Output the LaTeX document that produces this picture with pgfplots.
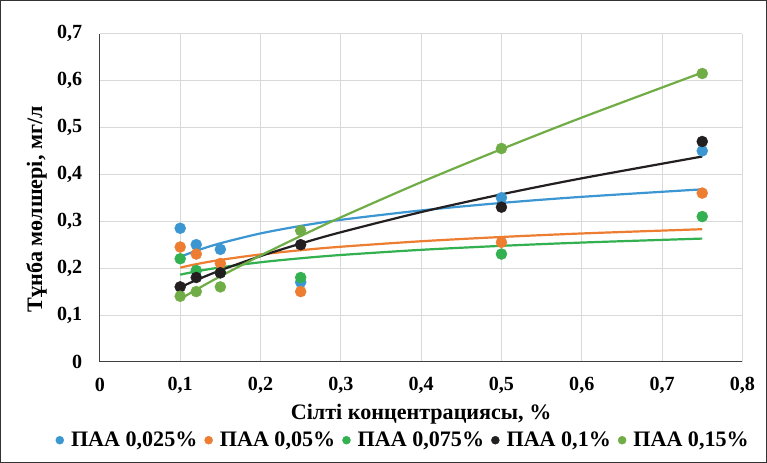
\documentclass[border=0pt]{standalone}
\usepackage{pgfplots}
\pgfplotsset{compat=1.18}
\usepackage{fontspec}
\setmainfont{Liberation Serif}
\definecolor{cA}{HTML}{3C96D2}
\definecolor{cB}{HTML}{ED7D31}
\definecolor{cC}{HTML}{33B04F}
\definecolor{cD}{HTML}{231F20}
\definecolor{cE}{HTML}{70AD47}
\begin{document}
\begin{tikzpicture}
\draw[line width=1pt, black!80] (-99pt,-100pt) rectangle (664pt,360pt);
\begin{axis}[
  at={(0,0)}, anchor=south west,
  scale only axis, width=640pt, height=327pt,
  xmin=0, xmax=0.8, ymin=0, ymax=0.7,
  xtick={0,0.1,0.2,0.3,0.4,0.5,0.6,0.7,0.8},
  ytick={0,0.1,0.2,0.3,0.4,0.5,0.6,0.7},
  grid=major, grid style={color=black!15, line width=0.9pt},
  axis x line*=bottom, axis y line*=left,
  axis line style={black!75, line width=1pt, -},
  major tick length=0pt,
  tick label style={font=\fontsize{20}{22}\selectfont\bfseries},
  xticklabel style={anchor=center, yshift=-23pt},
  yticklabel style={anchor=east, xshift=-14pt},
  /pgf/number format/.cd, use comma, fixed, assume math mode=true,
  /pgfplots/.cd,
  xlabel={Сілті концентрациясы, \%},
  ylabel={Тұнба мөлшері, мг/л},
  label style={font=\fontsize{22}{24}\selectfont\bfseries},
  xlabel style={at={(axis description cs:0.5,-0.158)}, anchor=center},
  ylabel style={at={(axis description cs:-0.0984,0.465)}, anchor=center},
  legend style={at={(axis description cs:0.472,-0.2385)}, anchor=center,
    draw=none, fill=none, font=\fontsize{22}{24}\selectfont\bfseries,
    /tikz/every odd column/.append style={column sep=5pt},
    /tikz/every even column/.append style={column sep=5pt},
    inner sep=0pt},
  legend columns=-1,
  legend image code/.code={\fill (0.2cm,0cm) circle (4pt);},
]
\addplot[only marks, mark=*, color=cA, mark size=5.5pt] coordinates {(0.1,0.285) (0.12,0.25) (0.15,0.24) (0.25,0.17) (0.5,0.35) (0.75,0.45)};
\addlegendentry{ПАА 0,025\%}
\addplot[only marks, mark=*, color=cB, mark size=5.5pt] coordinates {(0.1,0.245) (0.12,0.23) (0.15,0.21) (0.25,0.15) (0.5,0.255) (0.75,0.36)};
\addlegendentry{ПАА 0,05\%}
\addplot[only marks, mark=*, color=cC, mark size=5.5pt] coordinates {(0.1,0.22) (0.12,0.195) (0.15,0.19) (0.25,0.18) (0.5,0.23) (0.75,0.31)};
\addlegendentry{ПАА 0,075\%}
\addplot[only marks, mark=*, color=cD, mark size=5.5pt] coordinates {(0.1,0.16) (0.12,0.18) (0.15,0.19) (0.25,0.25) (0.5,0.33) (0.75,0.47)};
\addlegendentry{ПАА 0,1\%}
\addplot[only marks, mark=*, color=cE, mark size=5.5pt] coordinates {(0.1,0.14) (0.12,0.15) (0.15,0.16) (0.25,0.28) (0.5,0.455) (0.75,0.615)};
\addlegendentry{ПАА 0,15\%}
% trendlines
\addplot[forget plot, cA, line width=2.2pt, smooth] coordinates {(0.1,0.224) (0.12,0.237) (0.15,0.253) (0.2,0.274) (0.25,0.290) (0.3,0.303) (0.4,0.323) (0.5,0.339) (0.6,0.352) (0.75,0.368)};
\addplot[forget plot, cB, line width=2.2pt, smooth] coordinates {(0.1,0.201) (0.12,0.2085) (0.15,0.2175) (0.2,0.2292) (0.25,0.2382) (0.3,0.2456) (0.4,0.2573) (0.5,0.2664) (0.6,0.2739) (0.75,0.283)};
\addplot[forget plot, cC, line width=2.2pt, smooth] coordinates {(0.1,0.186) (0.12,0.193) (0.15,0.2015) (0.2,0.2125) (0.25,0.221) (0.3,0.228) (0.4,0.239) (0.5,0.2475) (0.6,0.2545) (0.75,0.263)};
\addplot[forget plot, cD, line width=2.2pt, smooth] coordinates {(0.1,0.159) (0.12,0.1745) (0.15,0.1952) (0.2,0.2256) (0.25,0.2523) (0.3,0.2765) (0.4,0.3195) (0.5,0.3573) (0.6,0.3915) (0.75,0.438)};
\addplot[forget plot, cE, line width=2.2pt, smooth] coordinates {(0.1,0.134) (0.12,0.1541) (0.15,0.1825) (0.2,0.2268) (0.25,0.2684) (0.3,0.3083) (0.4,0.3833) (0.5,0.4537) (0.6,0.5210) (0.75,0.617)};
\end{axis}
\end{tikzpicture}
\end{document}
